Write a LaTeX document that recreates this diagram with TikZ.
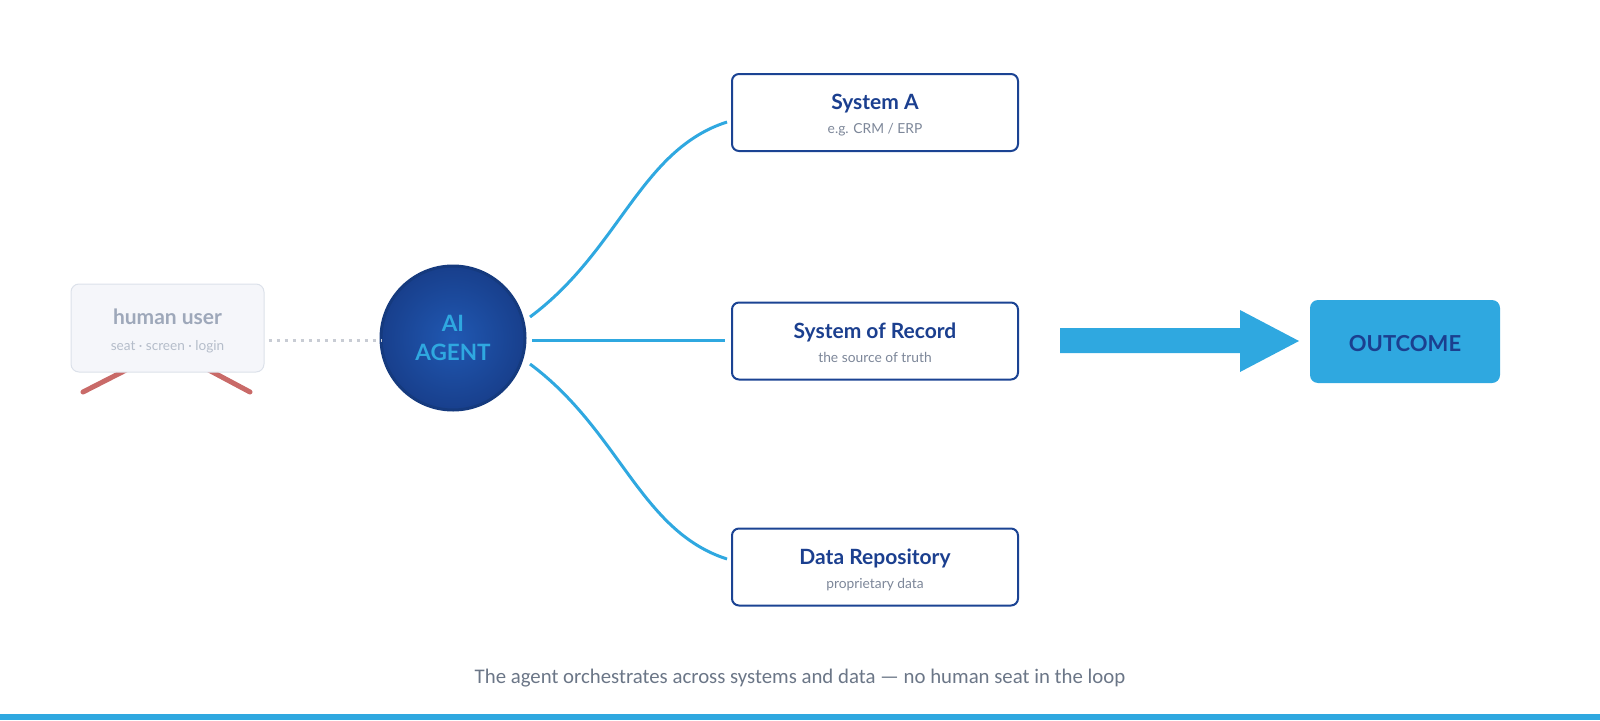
\documentclass[tikz,border=0pt]{standalone}
\usepackage{fontspec}
\setmainfont{Lato}
\newfontfamily\captionfont{Carlito}
\usetikzlibrary{calc}
\definecolor{accent}{HTML}{2FA8E0}
\definecolor{navy}{HTML}{1B3F8F}
\definecolor{navyborder}{HTML}{1B4393}
\definecolor{subgray}{HTML}{7D8799}
\definecolor{hufill}{HTML}{F5F6FA}
\definecolor{huborder}{HTML}{DCE1EA}
\definecolor{hutitle}{HTML}{9EA8BA}
\definecolor{husub}{HTML}{B5BDCA}
\definecolor{legred}{HTML}{C96A68}
\definecolor{dotgray}{HTML}{C8CCD4}
\definecolor{captiongray}{HTML}{6B7687}
\definecolor{agentin}{HTML}{2058B2}
\definecolor{agentout}{HTML}{183F8C}
\definecolor{agentborder}{HTML}{153A7E}
\tikzset{
  sysbox/.style={draw=navyborder, line width=2pt, rounded corners=7pt, fill=white,
    minimum width=286pt, minimum height=77pt, inner sep=0pt},
  systitle/.style={anchor=base, text=navy, font=\bfseries\fontsize{21}{24}\selectfont, inner sep=0pt},
  syssub/.style={anchor=base, text=subgray, font=\fontsize{13.8}{16}\selectfont, inner sep=0pt},
  link/.style={draw=accent, line width=3pt},
  leg/.style={draw=legred, line width=5pt, line cap=round},
}
\begin{document}
\begin{tikzpicture}[x=1pt,y=-1pt]
\useasboundingbox (0,0) rectangle (1600,720);

% human user
\draw[leg] (83,392) -- (130,368);
\draw[leg] (250,392) -- (205,368);
\node[draw=huborder, line width=1pt, fill=hufill, rounded corners=8pt,
  minimum width=193pt, minimum height=88pt, inner sep=0pt] (hu) at (167.5,328) {};
\node[anchor=base, text=hutitle, font=\bfseries\fontsize{21}{24}\selectfont, inner sep=0pt] (hut) at (167.5,324) {human user};
\node[anchor=base, text=husub, font=\fontsize{13.6}{16}\selectfont, inner sep=0pt] (hus) at (167.5,350) {seat · screen · login};

% agent
\node[circle, draw=agentborder, line width=3pt, minimum size=144pt, inner sep=0pt,
  inner color=agentin, outer color=agentout] (ag) at (453,338) {};
\node[anchor=base, text=accent, font=\bfseries\fontsize{22.5}{28}\selectfont, inner sep=0pt] (ag1) at (453,331) {AI};
\node[anchor=base, text=accent, font=\bfseries\fontsize{22.5}{28}\selectfont, inner sep=0pt] (ag2) at (453,360) {AGENT};

\draw[dotgray, line width=3pt, dash pattern=on 3pt off 5pt] ($(hu.east |- 0,340)+(4,0)$) -- ($(ag.west)+(2,2)$);

% systems
\node[sysbox] (sa) at (875,112.5) {};
\node[systitle] (sat) at (875,109.5) {System A};
\node[syssub] (sas) at (875,133.5) {e.g. CRM / ERP};

\node[sysbox] (sor) at (875,341) {};
\node[systitle] (sort) at (875,338) {System of Record};
\node[syssub] (sors) at (875,362) {the source of truth};

\node[sysbox] (dr) at (875,567) {};
\node[systitle] (drt) at (875,564) {Data Repository};
\node[syssub] (drs) at (875,588) {proprietary data};

% connectors
\coordinate (c1s) at (530,317);
\coordinate (c1e) at (727,122);
\coordinate (c3s) at (530,364);
\coordinate (c3e) at (727,559);
\draw[link] (c1s) .. controls +(90,-67) and +(-87,28) .. (c1e);
\draw[link] (532,340) -- ($(sor.west |- 0,340)+(-6,0)$);
\draw[link] (c3s) .. controls +(90,67) and +(-87,-28) .. (c3e);

% big arrow
\coordinate (arS) at (1060,341);
\coordinate (arE) at (1299,341);
\fill[accent] (1060,328) -- (1240,328) -- (1240,310) -- (arE) -- (1240,372) -- (1240,353) -- (1060,353) -- cycle;

% outcome
\node[fill=accent, rounded corners=8pt, minimum width=190pt, minimum height=83pt, inner sep=0pt] (out) at (1405,341.5) {};
\node[anchor=base, text=navy, font=\bfseries\fontsize{22}{26}\selectfont, inner sep=0pt] (outt) at (1405,351) {OUTCOME};

% caption
\node[anchor=base, text=captiongray, font=\captionfont\fontsize{20.8}{24}\selectfont, inner sep=0pt] (cap) at (800,683) {The agent orchestrates across systems and data — no human seat in the loop};

% bottom bar
\fill[accent] (0,714) rectangle (1600,720);
\end{tikzpicture}
\end{document}
